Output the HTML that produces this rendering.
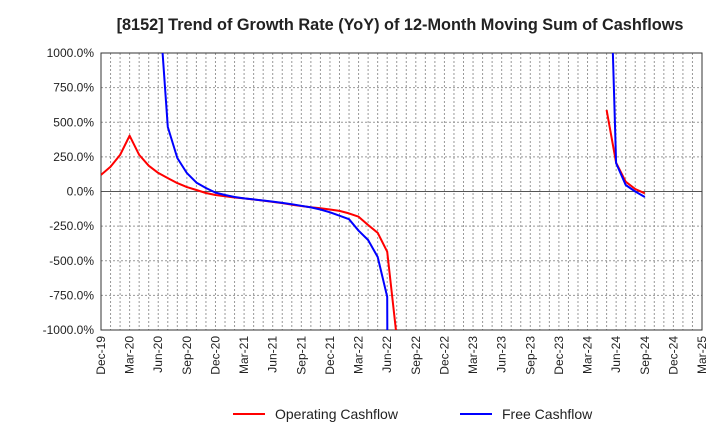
<!DOCTYPE html>
<html><head><meta charset="utf-8"><style>
html,body{margin:0;padding:0;background:#fff;overflow:hidden;width:720px;height:440px;font-family:"Liberation Sans",Arial,sans-serif}
svg{display:block}
svg text{font-family:"Liberation Sans",Arial,sans-serif}
</style></head><body>
<svg id="c" width="720" height="440" xmlns="http://www.w3.org/2000/svg">
<text x="400" y="30" text-anchor="middle" font-size="16.3" font-weight="bold" fill="#222">[8152]  Trend of Growth Rate (YoY) of 12-Month Moving Sum of Cashflows</text>
<g id="grid"></g><g id="axes"></g><g id="series"></g>
<g>
<line x1="233" y1="414" x2="265" y2="414" stroke="#f00" stroke-width="2"/>
<text x="275" y="419" font-size="14" fill="#222">Operating Cashflow</text>
<line x1="460" y1="414" x2="492" y2="414" stroke="#00f" stroke-width="2"/>
<text x="502" y="419" font-size="14" fill="#222">Free Cashflow</text>
</g>
</svg>
<script>
const xLabels=["Dec-19","Mar-20","Jun-20","Sep-20","Dec-20","Mar-21","Jun-21","Sep-21","Dec-21","Mar-22","Jun-22","Sep-22","Dec-22","Mar-23","Jun-23","Sep-23","Dec-23","Mar-24","Jun-24","Sep-24","Dec-24","Mar-25"];
const yTicks=[1000,750,500,250,0,-250,-500,-750,-1000];
const yTickLabels=["1000.0%","750.0%","500.0%","250.0%","0.0%","-250.0%","-500.0%","-750.0%","-1000.0%"];
// monthly values starting Dec-19 (index 0); null = no data
const operating=[120,179,264,403,264,186,134,97,61,32,11,-11,-25,-35,-43,-50,-58,-66,-75,-84,-95,-105,-113,-121,-130,-140,-158,-182,-242,-298,-435,-1050,
null,null,null,null,null,null,null,null,null,null,null,null,null,null,null,null,null,null,null,null,null,589,208,71,18,-13];
const freeCf=[null,null,null,null,null,null,1450,466,242,133,64,25,-8,-25,-40,-50,-57,-65,-73,-82,-92,-103,-115,-130,-150,-175,-200,-283,-350,-473,-760,-20000,
null,null,null,null,null,null,null,null,null,null,null,null,null,null,null,null,null,null,null,null,null,2540,205,47,0,-40];
const L=101,R=702,T=53,B=330,NM=63;
const xs=i=>L+(R-L)*i/NM, ys=v=>B-(v+1000)/2000*(B-T);
const NS="http://www.w3.org/2000/svg";
function mk(tag,at,parent){const e=document.createElementNS(NS,tag);for(const k in at)e.setAttribute(k,at[k]);parent.appendChild(e);return e;}
const g=document.getElementById('grid'),ax=document.getElementById('axes'),s=document.getElementById('series');
for(let i=1;i<NM;i++){const l=mk('line',{x1:xs(i),x2:xs(i),y1:T,y2:B,stroke:'#999','stroke-width':1,'stroke-dasharray':'2,2'},g);

}
yTicks.forEach((v,i)=>{const y=ys(v);
if(v!==0){const l=mk('line',{x1:L,x2:R,y1:y,y2:y,stroke:'#999','stroke-width':1,'stroke-dasharray':'2,2'},g);

}
const t=mk('text',{x:L-7,y:y+4,'text-anchor':'end','font-size':12,fill:'#222'},ax);t.textContent=yTickLabels[i];

});
const z=mk('line',{x1:L,x2:R,y1:ys(0),y2:ys(0),stroke:'#555','stroke-width':1},ax);


const fr=mk('rect',{x:L,y:T,width:R-L,height:B-T,fill:'none',stroke:'#333','stroke-width':1},ax);


xLabels.forEach((lb,i)=>{const x=xs(i*3);const t=mk('text',{transform:`translate(${x+4},${B+6}) rotate(-90)`,'text-anchor':'end','font-size':12,fill:'#222'},ax);t.textContent=lb;

});
mk('clipPath',{id:'cp'},s).appendChild(document.createElementNS(NS,'rect'));
const cr=s.querySelector('#cp rect');cr.setAttribute('x',L);cr.setAttribute('y',T);cr.setAttribute('width',R-L);cr.setAttribute('height',B-T);
function draw(arr,color,name){let d='',pen=false;arr.forEach((v,i)=>{if(v===null){pen=false;return;}d+=(pen?'L':'M')+xs(i).toFixed(1)+','+ys(v).toFixed(1);pen=true;});
const p=mk('path',{d:d,fill:'none',stroke:color,'stroke-width':2,'clip-path':'url(#cp)','stroke-linejoin':'round'},s);

}
draw(operating,'#f00','operating-cashflow-line');
draw(freeCf,'#00f','free-cashflow-line');
</script>
</body></html>
